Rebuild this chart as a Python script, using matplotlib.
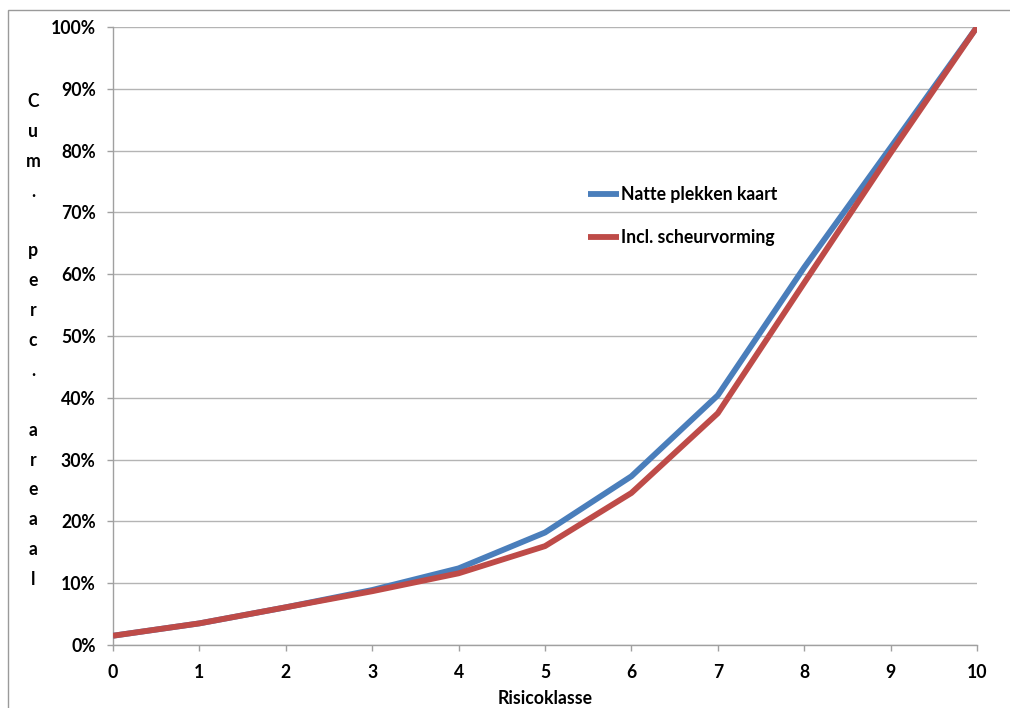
import matplotlib
matplotlib.use("Agg")
import matplotlib.pyplot as plt
from matplotlib.patches import Rectangle
from matplotlib.ticker import FuncFormatter, MultipleLocator

plt.rcParams['font.family'] = ['Lato', 'DejaVu Sans']

# Cumulative share of area per risk class
risk_classes = [0, 1, 2, 3, 4, 5, 6, 7, 8, 9, 10]
natte_plekken = [1.5, 3.5, 6.1, 8.9, 12.4, 18.2, 27.3, 40.4, 61.1, 80.5, 100.0]
incl_scheur = [1.5, 3.5, 6.1, 8.7, 11.6, 16.0, 24.6, 37.5, 58.6, 79.6, 100.0]

series_labels = ["Natte plekken kaart", "Incl. scheurvorming"]
series_colors = ["#4a7ebb", "#be4b48"]
x_label = "Risicoklasse"
y_label = "Cum. perc. areaal"

FS = 12.7
W, H = 1010, 708
fig = plt.figure(figsize=(W / 100, H / 100), dpi=100)
fig.patch.set_facecolor("white")

# Outer chart frame (runs past the right and bottom edges of the canvas)
fig.add_artist(Rectangle((8 / W, -20 / H), (1040 - 8) / W, (H + 20 - 10) / H,
                         transform=fig.transFigure, fill=False,
                         edgecolor="#9a9a9a", linewidth=1.0))

ax = fig.add_axes([113 / W, 1 - 645 / H, (977 - 113) / W, (645 - 27) / H])

ax.plot(risk_classes, natte_plekken, color=series_colors[0], lw=4.2,
        label=series_labels[0], solid_capstyle="butt", zorder=3)
ax.plot(risk_classes, incl_scheur, color=series_colors[1], lw=4.2,
        label=series_labels[1], solid_capstyle="butt", zorder=4)

ax.set_xlim(0, 10)
ax.set_ylim(0, 100)
ax.xaxis.set_major_locator(MultipleLocator(1))
ax.yaxis.set_major_locator(MultipleLocator(10))
ax.yaxis.set_major_formatter(FuncFormatter(lambda v, _: f"{v:.0f}%"))

ax.grid(axis="y", color="#b4b4b4", linewidth=1.0)
ax.set_axisbelow(True)
for side in ("top", "right"):
    ax.spines[side].set_visible(False)
for side in ("left", "bottom"):
    ax.spines[side].set_color("#a0a0a0")
    ax.spines[side].set_linewidth(1.0)

ax.tick_params(axis="both", colors="#a0a0a0", length=4.5, width=1.0,
               labelcolor="black", labelsize=FS)
ax.tick_params(axis="y", pad=8)
ax.tick_params(axis="x", pad=9)
for lab in ax.get_xticklabels() + ax.get_yticklabels():
    lab.set_fontweight("bold")

ax.set_xlabel(x_label, fontsize=FS, fontweight="bold", labelpad=7)

# Vertical, stacked-letter axis title
stacked = "\n".join(" " if ch == " " else ch for ch in y_label)
fig.text(33 / W, 1 - 340.5 / H, stacked, ha="center", va="center",
         fontsize=FS, fontweight="bold", linespacing=1.92)

leg = ax.legend(loc="upper left", bbox_to_anchor=(588 / W, 1 - 186 / H),
                bbox_transform=fig.transFigure, frameon=False,
                fontsize=FS, handlelength=1.75, handletextpad=0.1,
                labelspacing=1.48, borderpad=0, borderaxespad=0)
for t in leg.get_texts():
    t.set_fontweight("bold")

fig.savefig("out.png", dpi=100, facecolor="white")
